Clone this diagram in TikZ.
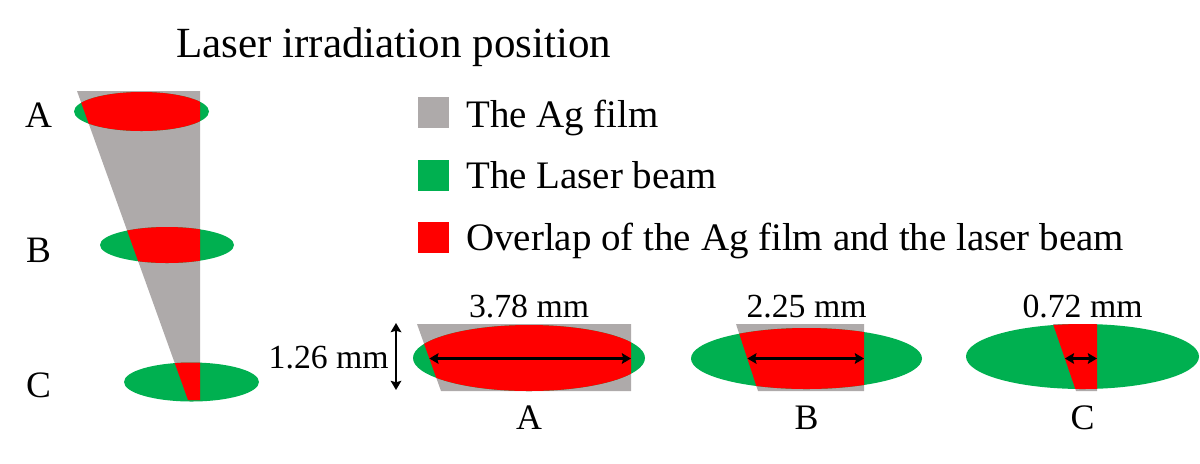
\documentclass[tikz,border=0pt]{standalone}
\usepackage{fontspec}
\setmainfont{Liberation Serif}
\usetikzlibrary{arrows.meta}
\definecolor{agf}{RGB}{174,170,170}
\definecolor{lsb}{RGB}{0,176,80}
\definecolor{ovl}{RGB}{255,0,0}
\newcommand{\fsz}[1]{\fontsize{#1}{#1}\selectfont}

\begin{document}
\begin{tikzpicture}[x=0.025cm,y=-0.025cm,
  dim/.style={{Stealth[length=6.5pt,width=7.5pt,inset=1pt]}-{Stealth[length=6.5pt,width=7.5pt,inset=1pt]},line width=2.3pt},
  lbl/.style={inner sep=0pt,anchor=base}]
  \useasboundingbox (0,0) rectangle (1200,463);
  \node[lbl,anchor=base west,font=\fsz{30.6}] (title) at (176,57) {Laser irradiation position};
  % film wedge with the three spots
  \fill[agf] (77,91) -- (200,91) -- (200,400) -- (188,400) -- cycle;
  \foreach \n/\cx/\cy/\rx/\ry/\by in {A/141.5/111.5/67.5/19.5/127,B/167/245/67/18/262,C/191.5/382/67.5/19.5/397} {
    \fill[lsb] (\cx,\cy) ellipse [x radius=\rx, y radius=\ry];
    \begin{scope}
      \clip (77,91) -- (200,91) -- (200,400) -- (188,400) -- cycle;
      \fill[ovl] (\cx,\cy) ellipse [x radius=\rx, y radius=\ry];
    \end{scope}
    \node[lbl,font=\fsz{26.5}] (pos\n) at (38.5,\by) {\n};
  }
  % legend
  \foreach \n/\y/\c/\by/\t in {film/112.5/agf/127/The Ag film,beam/175/lsb/188/The Laser beam,over/237.5/ovl/250/Overlap of the Ag film and the laser beam} {
    \fill[\c] (418,\y-15.5) rectangle (449,\y+15.5);
    \node[lbl,anchor=base west,font=\fsz{27.7}] (key\n) at (466,\by) {\t};
  }
  % spots seen from above
  \foreach \n/\tl/\bl/\r/\cx/\cy/\rx/\ry/\w in {A/417/441/631/529/358/116/33/3.78,B/736/758/864/806.5/358.5/115.5/30.5/2.25,C/1053/1076/1097/1082.5/356.5/116.5/32.5/0.72} {
    \fill[agf] (\tl,324) -- (\r,324) -- (\r,391) -- (\bl,391) -- cycle;
    \fill[lsb] (\cx,\cy) ellipse [x radius=\rx, y radius=\ry];
    \begin{scope}
      \clip (\tl,324) -- (\r,324) -- (\r,391) -- (\bl,391) -- cycle;
      \fill[ovl] (\cx,\cy) ellipse [x radius=\rx, y radius=\ry];
    \end{scope}
    \coordinate (wl\n) at ({\tl+(\bl-\tl)*0.515},358.5);
    \coordinate (wr\n) at (\r,358.5);
    \draw[dim] (wl\n) -- (wr\n);
    \node[lbl,font=\fsz{24}] (wid\n) at (\cx,317) {\w~mm};
    \node[lbl,font=\fsz{25.5}] (spot\n) at (\cx,429) {\n};
  }
  \coordinate (hT) at (396,323);
  \coordinate (hB) at (396,390);
  \draw[dim,line width=1.6pt] (hT) -- (hB);
  \node[lbl,anchor=base east,font=\fsz{24}] (hgt) at (389,368) {1.26~mm};
\end{tikzpicture}
\end{document}
